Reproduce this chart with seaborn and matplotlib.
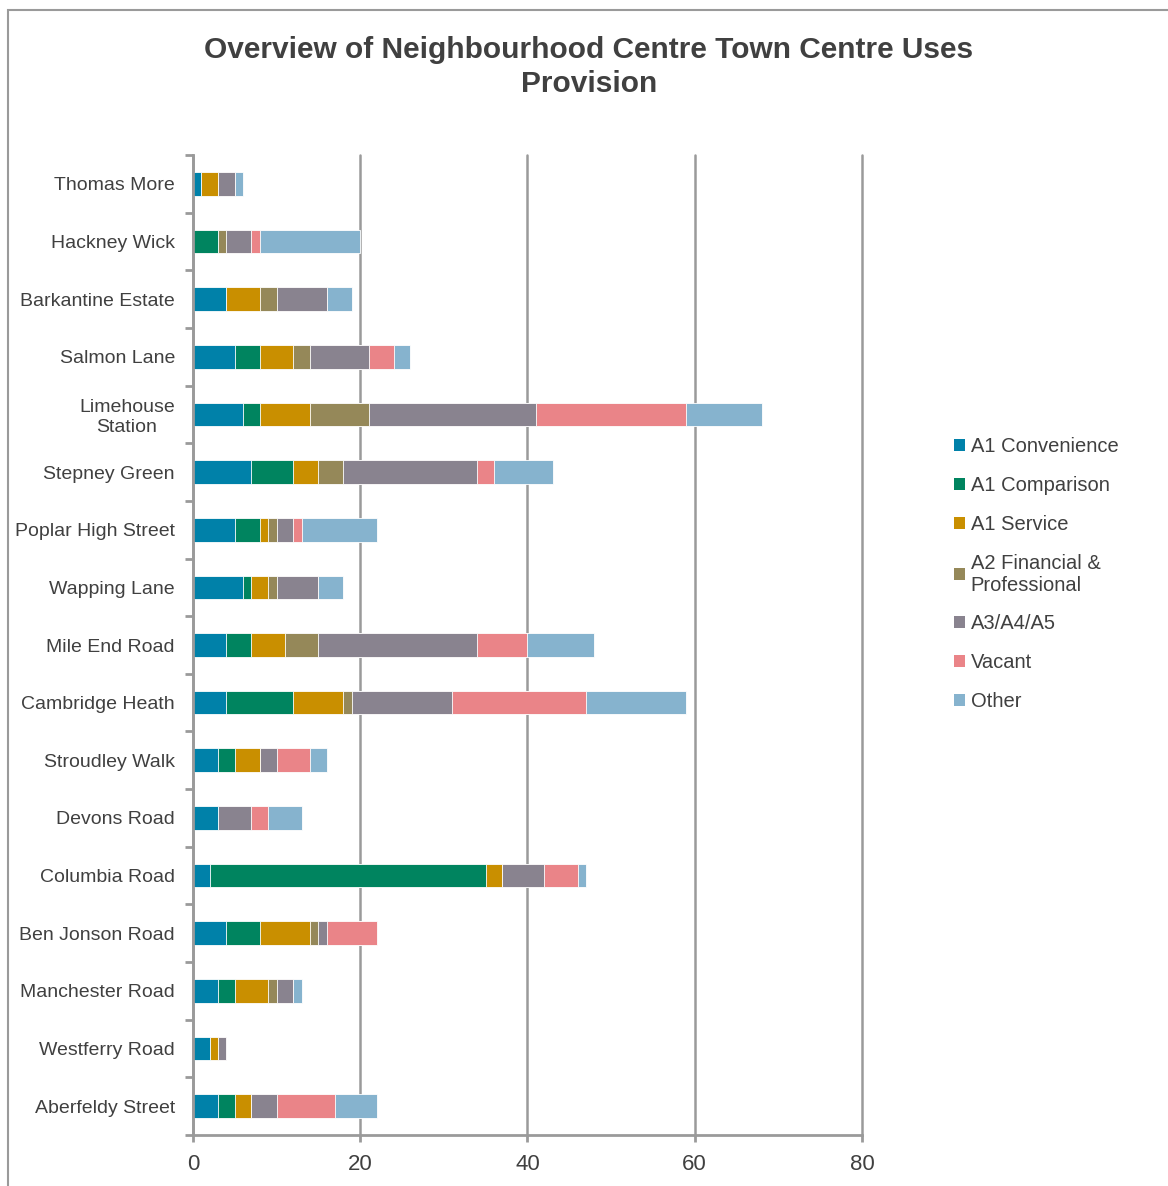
import numpy as np
import pandas as pd
import matplotlib.pyplot as plt
from matplotlib.patches import Patch, Rectangle
import seaborn as sns

centres = [
    "Thomas More", "Hackney Wick", "Barkantine Estate", "Salmon Lane",
    "Limehouse\nStation", "Stepney Green", "Poplar High Street", "Wapping Lane",
    "Mile End Road", "Cambridge Heath", "Stroudley Walk", "Devons Road",
    "Columbia Road", "Ben Jonson Road", "Manchester Road", "Westferry Road",
    "Aberfeldy Street",
]
series = [
    "A1 Convenience", "A1 Comparison", "A1 Service",
    "A2 Financial &\nProfessional", "A3/A4/A5", "Vacant", "Other",
]
a1_convenience = [1, 0, 4, 5, 6, 7, 5, 6, 4, 4, 3, 3, 2, 4, 3, 2, 3]
a1_comparison = [0, 3, 0, 3, 2, 5, 3, 1, 3, 8, 2, 0, 33, 4, 2, 0, 2]
a1_service = [2, 0, 4, 4, 6, 3, 1, 2, 4, 6, 3, 0, 2, 6, 4, 1, 2]
a2_financial = [0, 1, 2, 2, 7, 3, 1, 1, 4, 1, 0, 0, 0, 1, 1, 0, 0]
a3_a4_a5 = [2, 3, 6, 7, 20, 16, 2, 5, 19, 12, 2, 4, 5, 1, 2, 1, 3]
vacant = [0, 1, 0, 3, 18, 2, 1, 0, 6, 16, 4, 2, 4, 6, 0, 0, 7]
other = [1, 12, 3, 2, 9, 7, 9, 3, 8, 12, 2, 4, 1, 0, 1, 0, 5]
colors = ["#0081A9", "#00845F", "#C98F00", "#958859", "#89838F", "#EA8488", "#86B3CE"]

sns.set_theme(style="white")
plt.rcParams["font.family"] = ["Liberation Sans", "DejaVu Sans"]
text_col = "#404040"
line_col = "#9A9A9A"

df = pd.DataFrame(
    {
        "centre": centres,
        series[0]: a1_convenience,
        series[1]: a1_comparison,
        series[2]: a1_service,
        series[3]: a2_financial,
        series[4]: a3_a4_a5,
        series[5]: vacant,
        series[6]: other,
    }
)
# running totals so the bars can be layered from the longest down
cum = df[series].cumsum(axis=1)
cum["centre"] = df["centre"]

fig = plt.figure(figsize=(11.68, 11.86), dpi=100)
ax = fig.add_axes([0.1652, 0.043, 0.5728, 0.8263])

for name, col in reversed(list(zip(series, colors))):
    sns.barplot(
        data=cum,
        x=name,
        y="centre",
        order=centres,
        color=col,
        saturation=1,
        width=0.41,
        errorbar=None,
        edgecolor="white",
        linewidth=0.6,
        ax=ax,
        zorder=2,
    )

ax.set_xlim(0, 80)
ax.set_ylim(16.5, -0.5)
ax.set_xticks([0, 20, 40, 60, 80])
ax.set_xlabel("")
ax.set_ylabel("")
ax.grid(axis="x", color=line_col, lw=1.8)
ax.grid(axis="y", visible=False)
ax.set_axisbelow(True)
for gl in ax.get_xgridlines():
    gl.set_clip_on(False)
for side in ["top", "right"]:
    ax.spines[side].set_visible(False)
for side in ["left", "bottom"]:
    ax.spines[side].set_color(line_col)
    ax.spines[side].set_linewidth(2)

ax.set_yticks(np.arange(-0.5, 17, 1), minor=True)
ax.tick_params(axis="y", which="major", length=0, pad=13, labelsize=14, labelcolor=text_col)
ax.tick_params(axis="y", which="minor", left=True, length=6, width=2, color=line_col)
ax.tick_params(axis="x", which="major", bottom=True, length=5, width=2, color=line_col,
               labelsize=16, labelcolor=text_col, pad=9)
for lab in ax.get_yticklabels():
    lab.set_multialignment("center")

handles = [Patch(facecolor=c, edgecolor="none") for c in colors]
fig.legend(
    handles, series,
    loc="center left",
    bbox_to_anchor=(0.801, 0.516),
    frameon=False,
    fontsize=14.5,
    labelcolor=text_col,
    handlelength=0.55,
    handleheight=0.55,
    handletextpad=0.3,
    labelspacing=0.98,
)

fig.text(0.504, 0.970, "Overview of Neighbourhood Centre Town Centre Uses\nProvision",
         ha="center", va="top", fontsize=21.5, fontweight="bold", color=text_col,
         linespacing=1.27)

fig.add_artist(Rectangle((8 / 1168, -0.1), 1.2, 1.1 - 10 / 1186, transform=fig.transFigure,
                         fill=False, edgecolor=line_col, lw=1.5))

fig.savefig("out.png", dpi=100)
